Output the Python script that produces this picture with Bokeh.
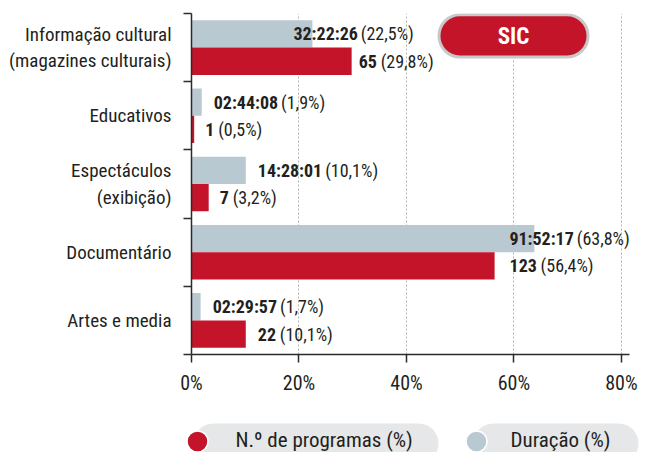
from bokeh.plotting import figure
from bokeh.models import Range1d, FixedTicker, ColumnDataSource
from bokeh.layouts import column
from bokeh.core.properties import value
from bokeh.embed import file_html
from bokeh.resources import INLINE

# ---- data ----
categories = ["Informação cultural\n(magazines culturais)", "Educativos",
              "Espectáculos\n(exibição)", "Documentário", "Artes e media"]
duration_pct = [22.5, 1.9, 10.1, 63.8, 1.7]
duration_txt = ["32:22:26", "02:44:08", "14:28:01", "91:52:17", "02:29:57"]
programs_pct = [29.8, 0.5, 3.2, 56.4, 10.1]
programs_cnt = [65, 1, 7, 123, 22]
x_ticks = [0, 20, 40, 60, 80]
x_tick_labels = ["0%", "20%", "40%", "60%", "80%"]
channel = "SIC"
legend_labels = ["N.º de programas (%)", "Duração (%)"]

# label placement tweaks (pixels from bar end)
dur_dx = [-19, 12, 12, -25, 12]
prog_dx = [7, 11, 11, 15, 12]

RED = "#c4142a"
GRAY = "#b9c9d1"
TXT = "#231f20"
AX = "#2b2b2b"
FONT = "'Roboto Condensed', 'DejaVu Sans Condensed', 'Liberation Sans Narrow', Roboto"

# ---- layout (pixels) ----
W = 646
H_MAIN = 412
H_LEG = 40
F_LEFT, F_RIGHT, F_TOP, F_BOT = 191, 629, 13, 354
X_END = 81.5

n = len(categories)
centers = [2 * (n - 1 - i) + 1 for i in range(n)]
bounds = list(range(0, 2 * n + 1, 2))

BOLD_W = {":": 0.26, " ": 0.22}


def bold_w(s, size):
    return sum(BOLD_W.get(c, 0.5) for c in s) * size


LBL = 18
xr = Range1d(0, X_END)

p = figure(width=W, height=H_MAIN, x_range=xr, y_range=Range1d(0, 2 * n),
           output_backend="svg", toolbar_location=None,
           min_border_left=F_LEFT, min_border_right=W - F_RIGHT,
           min_border_top=F_TOP, min_border_bottom=H_MAIN - F_BOT)
p.outline_line_color = None
p.background_fill_color = "white"

# axes
p.xaxis.ticker = FixedTicker(ticks=x_ticks)
p.xaxis.major_label_overrides = {t: l for t, l in zip(x_ticks, x_tick_labels)}
p.xaxis.major_tick_out = 8
p.xaxis.major_tick_in = 0
p.xaxis.minor_tick_line_color = None
p.xaxis.axis_line_color = AX
p.xaxis.axis_line_width = 1.5
p.xaxis.major_tick_line_color = AX
p.xaxis.major_tick_line_width = 1.5
p.xaxis.major_label_text_font = FONT
p.xaxis.major_label_text_font_size = "20px"
p.xaxis.major_label_text_color = TXT
p.xaxis.major_label_standoff = 8

p.yaxis.ticker = FixedTicker(ticks=centers, minor_ticks=bounds)
p.yaxis.major_label_overrides = {c: l for c, l in zip(centers, categories)}
p.yaxis.major_tick_out = 0
p.yaxis.major_tick_in = 0
p.yaxis.major_tick_line_color = None
p.yaxis.minor_tick_out = 8
p.yaxis.minor_tick_in = 0
p.yaxis.minor_tick_line_color = AX
p.yaxis.minor_tick_line_width = 1.5
p.yaxis.axis_line_color = AX
p.yaxis.axis_line_width = 1.5
p.yaxis.major_label_text_font = FONT
p.yaxis.major_label_text_font_size = "19px"
p.yaxis.major_label_text_color = TXT
p.yaxis.major_label_text_line_height = 1.15
p.yaxis.major_label_standoff = 12

p.xgrid.ticker = FixedTicker(ticks=x_ticks[1:])
p.xgrid.grid_line_color = "#b3b3b3"
p.xgrid.grid_line_dash = "2 2"
p.xgrid.grid_line_width = 1
p.ygrid.grid_line_color = None

# bars
src = ColumnDataSource(dict(
    yd=[c + 0.4 for c in centers], yp=[c - 0.4 for c in centers],
    dur=duration_pct, prog=programs_pct,
    dur_b=duration_txt, prog_b=[str(v) for v in programs_cnt],
    dur_r=["(" + f"{v:.1f}".replace(".", ",") + "%)" for v in duration_pct],
    prog_r=["(" + f"{v:.1f}".replace(".", ",") + "%)" for v in programs_pct],
    dur_dx=dur_dx, prog_dx=prog_dx,
    dur_dx2=[d + bold_w(b, LBL) + 4 for d, b in zip(dur_dx, duration_txt)],
    prog_dx2=[d + bold_w(str(b), LBL) + 4 for d, b in zip(prog_dx, programs_cnt)],
))

p.hbar(y="yd", right="dur", left=0, height=0.8, source=src, fill_color=GRAY, line_color=None)
p.hbar(y="yp", right="prog", left=0, height=0.8, source=src, fill_color=RED, line_color=None)

for ycol, xcol, bcol, rcol, dx, dx2 in [("yd", "dur", "dur_b", "dur_r", "dur_dx", "dur_dx2"),
                                       ("yp", "prog", "prog_b", "prog_r", "prog_dx", "prog_dx2")]:
    p.text(x=xcol, y=ycol, text=bcol, x_offset=dx, source=src, text_font=value(FONT),
           text_font_style="bold", text_font_size=f"{LBL}px", text_color=TXT,
           text_baseline="middle", text_align="left")
    p.text(x=xcol, y=ycol, text=rcol, x_offset=dx2, source=src, text_font=value(FONT),
           text_font_size=f"{LBL}px", text_color=TXT,
           text_baseline="middle", text_align="left")


# channel badge (decoration, placed in page pixels)
def px2x(px):
    return (px - F_LEFT) * X_END / (F_RIGHT - F_LEFT)


def py2y(py):
    return (F_BOT - py) * (2 * n) / (F_BOT - F_TOP)


p.quad(left=[px2x(438.5)], right=[px2x(587.5)], top=[py2y(14.2)], bottom=[py2y(56.5)],
       border_radius=21, fill_color=RED, line_color="#c8c8c8", line_width=3)
p.text(x=[px2x(513)], y=[py2y(35.5)], text=[channel], text_font=value(FONT),
       text_font_style="bold", text_font_size="23px", text_color="white",
       text_align="center", text_baseline="middle")

# legend strip, coordinates in page pixels
lg_kw = dict(width=W, height=H_LEG, output_backend="svg", toolbar_location=None,
             x_axis_type=None, y_axis_type=None, min_border_top=0, min_border_bottom=0)
lg = figure(**lg_kw)
aligned_off = False
try:
    lg.frame_align = False
    p.frame_align = False
    aligned_off = True
except Exception:
    aligned_off = False
if aligned_off:
    lg.min_border_left = 0
    lg.min_border_right = 0
    lg.x_range = Range1d(0, W)
else:
    lg.min_border_left = F_LEFT
    lg.min_border_right = W - F_RIGHT
    lg.x_range = Range1d(F_LEFT, F_RIGHT)
lg.y_range = Range1d(H_MAIN + H_LEG, H_MAIN)
lg.outline_line_color = None
lg.grid.visible = False
lg.quad(left=[193, 473], right=[438, 638], top=[423, 423], bottom=[463, 463],
        border_radius=20, fill_color="#e6e7e8", line_color=None)
lg.scatter(x=[197, 476], y=[441, 441], size=21, fill_color=[RED, GRAY], line_color="white",
           line_width=1.5)
lg.text(x=[235, 510], y=[439, 439], text=legend_labels, text_font=value(FONT),
        text_font_size="21px", text_color=TXT, text_baseline="middle", text_align="left")

layout = column(p, lg)
open("out.html", "w").write(file_html(layout, INLINE))
